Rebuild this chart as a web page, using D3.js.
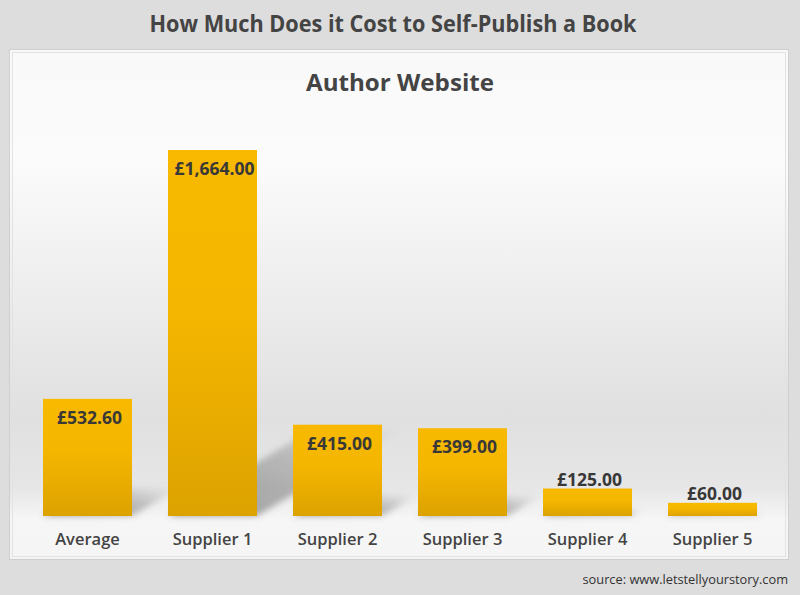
<!DOCTYPE html>
<html lang="en">
<head>
  <meta charset="UTF-8">
  <title>How Much Does it Cost to Self-Publish a Book</title>
  <style>
    body {
      margin: 0;
      padding: 0;
      background-color: #dddddd;
      font-family: "Open Sans", "Noto Sans", Arial, sans-serif;
    }
    svg { display: block; }
    .title, .subtitle {
      fill: #444;
      font-weight: 700;
      text-anchor: middle;
    }
    .cat-label {
      fill: #444;
      font-size: 16.5px;
      font-weight: 600;
      text-anchor: middle;
    }
    .value-label {
      fill: #383838;
      font-size: 17.5px;
      font-weight: 700;
      text-anchor: middle;
    }
    .source {
      fill: #333;
      font-size: 12.8px;
      text-anchor: end;
    }
  </style>
</head>
<body>
  <svg id="chart"></svg>

  <script src="https://d3js.org/d3.v7.min.js"></script>
  <script>
    // --- data ---
    const categories = ["Average", "Supplier 1", "Supplier 2", "Supplier 3", "Supplier 4", "Supplier 5"];
    const costs = [532.60, 1664.00, 415.00, 399.00, 125.00, 60.00];

    const title = "How Much Does it Cost to Self-Publish a Book";
    const subtitle = "Author Website";
    const source = "source: www.letstellyourstory.com";

    // --- setup ---
    const width = 800;
    const height = 595;
    const base = 516;

    const svg = d3.select("#chart")
      .attr("width", width)
      .attr("height", height);

    const defs = svg.append("defs");

    // panel background: white at top, grey band above the floor, light again at the labels
    const bg = defs.append("linearGradient")
      .attr("id", "panel-bg")
      .attr("x1", 0).attr("y1", 0).attr("x2", 0).attr("y2", 1);
    [[0, "#f9f9f9"], [0.22, "#fbfbfb"], [0.48, "#ededed"], [0.72, "#e0e0e0"],
     [0.86, "#e6e6e6"], [0.92, "#f6f6f6"], [1, "#f5f5f5"]].forEach(s => {
      bg.append("stop").attr("offset", s[0]).attr("stop-color", s[1]);
    });

    const barGrad = defs.append("linearGradient")
      .attr("id", "bar-fill")
      .attr("x1", 0).attr("y1", 0).attr("x2", 0).attr("y2", 1);
    [[0, "#f8b900"], [0.45, "#f5b600"], [1, "#dca200"]].forEach(s => {
      barGrad.append("stop").attr("offset", s[0]).attr("stop-color", s[1]);
    });

    const shadowGrad = defs.append("linearGradient")
      .attr("id", "shadow-fill")
      .attr("x1", 0).attr("y1", 1).attr("x2", 1).attr("y2", 0);
    shadowGrad.append("stop").attr("offset", 0).attr("stop-color", "#5a5a5a").attr("stop-opacity", 0.6);
    shadowGrad.append("stop").attr("offset", 0.6).attr("stop-color", "#6a6a6a").attr("stop-opacity", 0.35);
    shadowGrad.append("stop").attr("offset", 1).attr("stop-color", "#888").attr("stop-opacity", 0);

    defs.append("filter")
      .attr("id", "blur")
      .attr("x", "-20%").attr("y", "-20%").attr("width", "140%").attr("height", "140%")
      .append("feGaussianBlur").attr("stdDeviation", 3);

    // --- background and panel ---
    svg.append("rect")
      .attr("width", width).attr("height", height)
      .attr("fill", "#dddddd");

    svg.append("rect")
      .attr("x", 9.5).attr("y", 49.5)
      .attr("width", 779).attr("height", 510)
      .attr("fill", "url(#panel-bg)")
      .attr("stroke", "#cfcfcf");

    svg.append("rect")
      .attr("x", 12.5).attr("y", 52.5)
      .attr("width", 773).attr("height", 504)
      .attr("fill", "none")
      .attr("stroke", "#e2e2e2");

    // --- titles ---
    svg.append("text")
      .attr("class", "title")
      .attr("x", 393).attr("y", 32)
      .attr("font-size", 23)
      .attr("textLength", 487)
      .attr("lengthAdjust", "spacingAndGlyphs")
      .text(title);

    svg.append("text")
      .attr("class", "subtitle")
      .attr("x", 400).attr("y", 91)
      .attr("font-size", 23)
      .attr("textLength", 188)
      .attr("lengthAdjust", "spacingAndGlyphs")
      .text(subtitle);

    // --- scales ---
    const x = d3.scaleBand()
      .domain(categories)
      .range([25, 775])
      .paddingInner(0.288)
      .paddingOuter(0.144);

    const y = d3.scaleLinear()
      .domain([0, d3.max(costs)])
      .range([base, 150]);

    const data = categories.map((c, i) => ({ name: c, value: costs[i] }));
    const fmt = d => "£" + d3.format(",.2f")(d);

    // --- shadows cast up and to the right ---
    svg.append("g")
      .attr("filter", "url(#blur)")
      .selectAll("polygon")
      .data(data)
      .join("polygon")
      .attr("fill", "url(#shadow-fill)")
      .attr("points", d => {
        const h = base - y(d.value);
        const x0 = x(d.name), x1 = x0 + x.bandwidth();
        const dx = h * 0.4, dy = h * 0.24;
        return [[x0, base], [x1, base], [x1 + dx, base - dy], [x0 + dx, base - dy]].join(" ");
      });

    // --- bars ---
    svg.append("g")
      .selectAll("rect")
      .data(data)
      .join("rect")
      .attr("x", d => x(d.name))
      .attr("y", d => y(d.value))
      .attr("width", x.bandwidth())
      .attr("height", d => base - y(d.value))
      .attr("fill", "url(#bar-fill)");

    // --- value labels: inside tall bars, above short ones ---
    svg.append("g")
      .selectAll("text")
      .data(data)
      .join("text")
      .attr("class", "value-label")
      .attr("x", d => x(d.name) + x.bandwidth() / 2 + 2)
      .attr("y", d => {
        const top = y(d.value);
        return (base - top) > 40 ? top + 25 : top - 3;
      })
      .text(d => fmt(d.value));

    // --- category labels ---
    svg.append("g")
      .selectAll("text")
      .data(categories)
      .join("text")
      .attr("class", "cat-label")
      .attr("x", d => x(d) + x.bandwidth() / 2)
      .attr("y", 545)
      .text(d => d);

    // --- source ---
    svg.append("text")
      .attr("class", "source")
      .attr("x", 788).attr("y", 584)
      .text(source);
  </script>
</body>
</html>
